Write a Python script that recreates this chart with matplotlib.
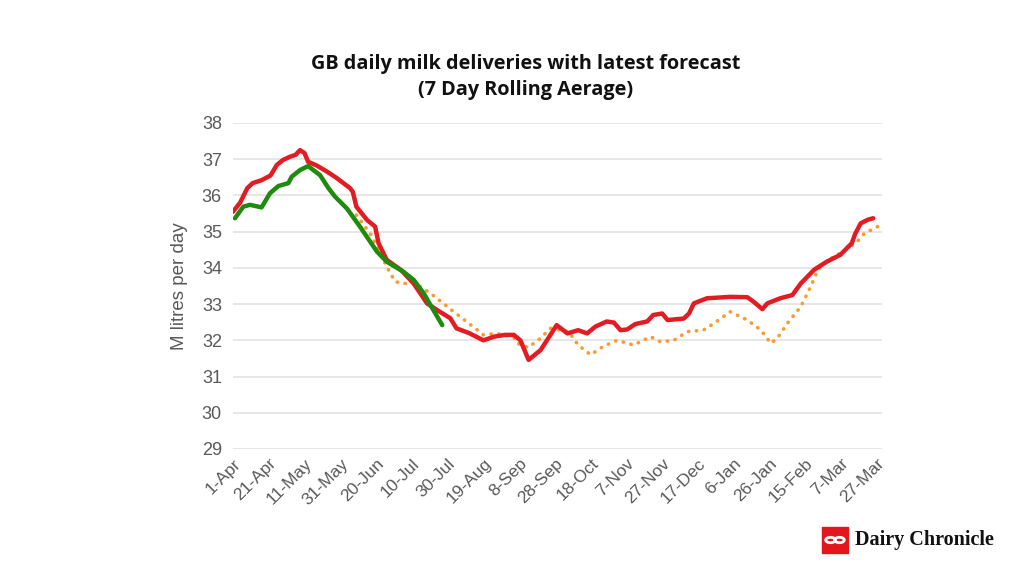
import numpy as np
import matplotlib
matplotlib.use("Agg")
import matplotlib.pyplot as plt
from matplotlib.patches import Rectangle, Circle

# day index from 1-Apr, value in M litres/day
red_day = [0, 4, 8, 11, 16, 21, 24.5, 28, 32, 35, 37.5, 40, 42, 47, 52.5, 58, 65.5, 67, 69,
           75, 79.5, 81.4, 86, 94, 101, 108.5, 114, 121.5, 125, 132, 140, 146, 152, 157,
           160.7, 165.3, 172, 177.5, 181, 187, 193, 198, 202.7, 209, 213, 216.7, 220.4,
           225, 231.6, 235, 240, 243, 252, 255, 257.7, 265, 278, 287.6, 291, 296, 298.8,
           306, 312.8, 317.5, 325, 332, 339.6, 346, 348, 351, 355, 358]
red_val = [35.55, 35.8, 36.2, 36.34, 36.42, 36.55, 36.84, 36.98, 37.07, 37.12, 37.25, 37.17,
           36.93, 36.82, 36.66, 36.48, 36.2, 36.1, 35.69, 35.32, 35.14, 34.68, 34.22, 33.94,
           33.57, 33.02, 32.84, 32.61, 32.33, 32.2, 32.0, 32.1, 32.15, 32.15, 32.0, 31.46,
           31.73, 32.15, 32.42, 32.19, 32.28, 32.19, 32.38, 32.52, 32.49, 32.28, 32.3,
           32.45, 32.52, 32.7, 32.74, 32.56, 32.6, 32.74, 33.02, 33.16, 33.2, 33.19, 33.07,
           32.86, 33.02, 33.16, 33.25, 33.57, 33.95, 34.17, 34.36, 34.68, 34.95, 35.23,
           35.33, 35.37]

green_day = [1.1, 5.8, 9.5, 16, 20.7, 25.4, 31, 32.9, 37.5, 42, 48.7, 53.4, 57, 63.7, 71,
             80.5, 86, 95.4, 101, 106.6, 112, 117]
green_val = [35.37, 35.69, 35.74, 35.67, 36.06, 36.26, 36.34, 36.52, 36.7, 36.81, 36.56,
             36.2, 35.97, 35.64, 35.14, 34.45, 34.17, 33.89, 33.67, 33.3, 32.84, 32.42]

fc_day = [69, 76.7, 81.4, 86, 90.7, 95.4, 102, 110.4, 123.4, 136.5, 140, 147.6, 157,
          158.8, 165, 172, 177.5, 187.8, 193, 200, 207, 214.8, 224, 233.5, 239, 246.5,
          254, 263, 269, 278, 287.6, 295, 300.7, 304.4, 310, 317.5, 323, 327, 333, 337,
          342.5, 349, 353, 359, 362]
fc_val = [35.46, 34.95, 34.5, 34.03, 33.62, 33.57, 33.57, 33.3, 32.79, 32.29, 32.15, 32.19,
          32.08, 31.92, 31.8, 32.06, 32.33, 32.24, 31.87, 31.6, 31.83, 32.0, 31.87, 32.1,
          31.96, 32.0, 32.24, 32.28, 32.47, 32.79, 32.56, 32.29, 31.92, 32.06, 32.47,
          32.93, 33.48, 33.94, 34.22, 34.33, 34.5, 34.72, 34.95, 35.1, 35.18]

tick_days = list(range(0, 361, 20))
tick_labels = ["1-Apr", "21-Apr", "11-May", "31-May", "20-Jun", "10-Jul", "30-Jul", "19-Aug",
               "8-Sep", "28-Sep", "18-Oct", "7-Nov", "27-Nov", "17-Dec", "6-Jan", "26-Jan",
               "15-Feb", "7-Mar", "27-Mar"]
y_ticks = list(range(29, 39))

RED, GREEN, ORANGE, GREY = "#e31b23", "#1e8a0e", "#f99b32", "#595959"

fig = plt.figure(figsize=(10.24, 5.76), dpi=100)
ax = fig.add_axes([0.2275, 0.2205, 0.634, 0.566])

ax.plot(fc_day, fc_val, color=ORANGE, lw=2.6, ls=(0, (0.1, 2.1)), dash_capstyle="round", zorder=2)
ax.plot(red_day, red_val, color=RED, lw=3.2, solid_capstyle="round", solid_joinstyle="round", zorder=3)
ax.plot(green_day, green_val, color=GREEN, lw=3.2, solid_capstyle="round", solid_joinstyle="round", zorder=4)

ax.set_xlim(0, 363)
ax.set_ylim(29, 38)
ax.set_yticks(y_ticks)
ax.set_yticklabels([str(v) for v in y_ticks], fontsize=13, color=GREY, family="Liberation Sans")
ax.set_xticks(tick_days)
ax.set_xticklabels(tick_labels, rotation=45, ha="right", rotation_mode="anchor",
                   fontsize=12.5, color=GREY, family="Liberation Sans")
ax.tick_params(length=0, pad=8)
ax.tick_params(axis="x", pad=5)
ax.grid(axis="y", color="#e3e3e3", lw=1.2)
ax.set_axisbelow(True)
for s in ax.spines.values():
    s.set_visible(False)
ax.set_ylabel("M litres per day", fontsize=13.5, color=GREY, family="Liberation Sans", labelpad=10)

fig.text(0.513, 0.867, "GB daily milk deliveries with latest forecast\n(7 Day Rolling Aerage)",
         ha="center", va="center", fontsize=14.3, fontweight="bold", family="Open Sans",
         linespacing=1.4, color="#111111")

# logo
fig.patches.append(Rectangle((822 / 1024, 1 - 553 / 576), 26 / 1024, 26 / 576,
                             transform=fig.transFigure, color="#e3151d", zorder=5))
for cx in (830.5, 839.5):
    fig.patches.append(Circle((cx / 1024, 1 - 540 / 576), 4.8 / 1024, transform=fig.transFigure,
                              fill=False, ec="white", lw=2.0, zorder=6))
fig.text(855 / 1024, 1 - 540 / 576, "Dairy Chronicle", ha="left", va="center", fontsize=14.5,
         fontweight="bold", family="Liberation Serif", color="#111111")

fig.savefig("out.png", dpi=100, facecolor="white")
